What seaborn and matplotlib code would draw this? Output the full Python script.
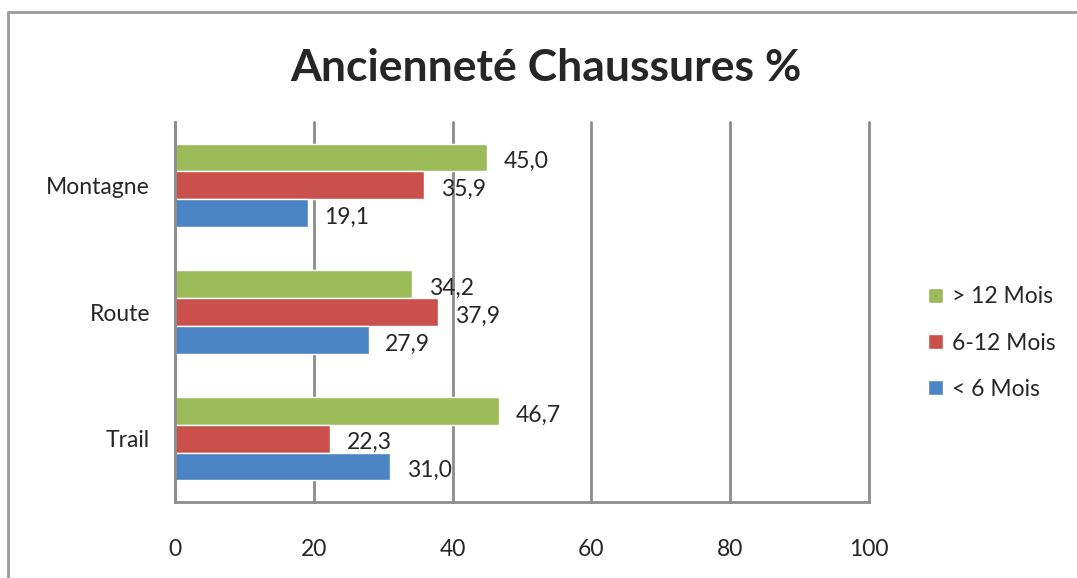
import numpy as np
import pandas as pd
import matplotlib
matplotlib.use("Agg")
import matplotlib.pyplot as plt
from matplotlib.lines import Line2D
import seaborn as sns

# données
categories = ["Montagne", "Route", "Trail"]
series = ["> 12 Mois", "6-12 Mois", "< 6 Mois"]
v_plus12 = [45.0, 34.2, 46.7]
v_6_12 = [35.9, 37.9, 22.3]
v_moins6 = [19.1, 27.9, 31.0]
x_ticks = [0, 20, 40, 60, 80, 100]

colors = ["#9bbb59", "#c9504b", "#4a84c4"]

df = pd.DataFrame({
    "cat": categories * 3,
    "serie": [s for s in series for _ in categories],
    "val": v_plus12 + v_6_12 + v_moins6,
})

sns.set_style("white")
plt.rcParams["font.family"] = ["Lato", "DejaVu Sans"]
fs = 16.5

fig = plt.figure(figsize=(10.77, 5.78), dpi=100)
ax = fig.add_axes([0.1625, 0.1315, 0.6444, 0.6574])

sns.barplot(data=df, x="val", y="cat", hue="serie", order=categories,
            hue_order=series, palette=colors, orient="h", width=0.66,
            saturation=1, ax=ax)

for cont in ax.containers:
    anns = ax.bar_label(cont, labels=[f"{v:.1f}".replace(".", ",") for v in cont.datavalues],
                        padding=12, fontsize=fs)
    # étiquettes un peu plus bas, comme dans Excel
    for a in anns:
        a.xyann = (12, -3)

ax.set_xlim(0, 100)
ax.set_ylim(2.5, -0.5)
ax.set_xticks(x_ticks)
ax.set_xticklabels([str(t) for t in x_ticks], fontsize=fs)
ax.tick_params(axis="x", length=7, width=2, color="#8c8c8c", pad=20)
ax.set_yticks(range(len(categories)))
ax.set_yticklabels(categories, fontsize=fs)
ax.tick_params(axis="y", which="major", length=0, pad=18)
ax.set_yticks([-0.5, 0.5, 1.5, 2.5], minor=True)
ax.tick_params(axis="y", which="minor", length=9, width=2, color="#8c8c8c")
ax.set_xlabel("")
ax.set_ylabel("")
ax.grid(axis="x", color="#8c8c8c", linewidth=2)
for gl in ax.get_xgridlines():
    gl.set_clip_on(False)
ax.set_axisbelow(True)
for s in ["top", "right"]:
    ax.spines[s].set_visible(False)
for s in ["left", "bottom"]:
    ax.spines[s].set_color("#8c8c8c")
    ax.spines[s].set_linewidth(2)

leg = ax.legend(loc="center left", bbox_to_anchor=(1.055, 0.418), frameon=False,
                fontsize=fs, labelspacing=1.1, handlelength=0.65, handleheight=0.65,
                handletextpad=0.4)

fig.text(0.507, 0.882, "Ancienneté Chaussures %", ha="center", va="center",
         fontsize=32, fontweight="bold")

# cadre du graphique
fig.add_artist(Line2D([8 / 1077, 1.0], [1 - 12 / 578, 1 - 12 / 578],
                      color="#9a9a9a", linewidth=2))
fig.add_artist(Line2D([8 / 1077, 8 / 1077], [0.0, 1 - 12 / 578],
                      color="#9a9a9a", linewidth=2))

fig.savefig("out.png", dpi=100)
